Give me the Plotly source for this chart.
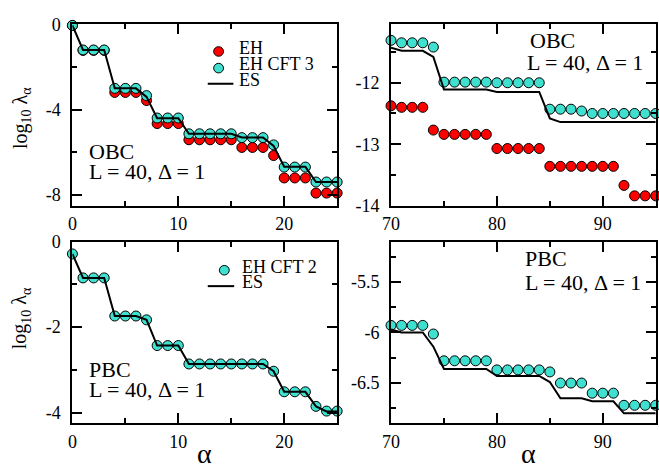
import plotly.graph_objects as go

W, H = 659, 474
FONT = "Liberation Serif, Times New Roman, serif"
RED = "#FF0000"
CYAN = "#40E0D0"

# ---------------- data ----------------
alpha_low = list(range(0, 26))
alpha_high = list(range(70, 96))

# OBC, low alpha
obc_eh_low = [-0.05, -1.22, -1.22, -1.22, -3.19, -3.19, -3.19, -3.57, -4.65, -4.65, -4.65,
              -5.41, -5.41, -5.41, -5.41, -5.41, -5.77, -5.77, -5.77, -6.15,
              -7.20, -7.20, -7.20, -7.91, -7.91, -7.91]
obc_cft3_low = [-0.05, -1.20, -1.20, -1.20, -3.00, -3.00, -3.00, -3.34, -4.39, -4.39, -4.39,
                -5.13, -5.13, -5.13, -5.13, -5.13, -5.31, -5.31, -5.31, -5.65,
                -6.69, -6.69, -6.69, -7.39, -7.39, -7.39]
obc_es_low = [-0.05, -1.20, -1.20, -1.20, -3.00, -3.00, -3.00, -3.40, -4.40, -4.40, -4.40,
              -5.13, -5.13, -5.13, -5.13, -5.13, -5.30, -5.30, -5.30, -5.70,
              -6.68, -6.68, -6.68, -7.39, -7.39, -7.39]

# OBC, high alpha
obc_eh_high = [-12.375, -12.40, -12.40, -12.40, -12.77, -12.84, -12.84, -12.84, -12.84, -12.84,
               -13.07, -13.07, -13.07, -13.07, -13.07, -13.36, -13.36, -13.36, -13.36, -13.36,
               -13.36, -13.36, -13.67, -13.84, -13.84, -13.84]
obc_cft3_high = [-11.31, -11.35, -11.35, -11.35, -11.42, -11.99, -11.99, -11.99, -11.99, -11.99,
                 -12.00, -12.00, -12.00, -12.00, -12.00, -12.43, -12.43, -12.43, -12.46, -12.50,
                 -12.50, -12.50, -12.50, -12.50, -12.50, -12.50]
obc_es_high = [-11.43, -11.48, -11.48, -11.48, -11.58, -12.11, -12.11, -12.11, -12.11, -12.11,
               -12.15, -12.15, -12.15, -12.15, -12.15, -12.58, -12.64, -12.64, -12.64, -12.64,
               -12.64, -12.64, -12.64, -12.64, -12.64, -12.64]

# PBC, low alpha
pbc_cft2_low = [-0.29, -0.85, -0.85, -0.85, -1.74, -1.74, -1.74, -1.83, -2.43, -2.43, -2.43,
                -2.86, -2.86, -2.86, -2.86, -2.86, -2.86, -2.86, -2.86, -3.03,
                -3.51, -3.51, -3.51, -3.85, -3.96, -3.96]
pbc_es_low = [-0.29, -0.85, -0.85, -0.85, -1.74, -1.74, -1.74, -1.83, -2.43, -2.43, -2.43,
              -2.86, -2.86, -2.86, -2.86, -2.86, -2.86, -2.86, -2.86, -3.03,
              -3.51, -3.51, -3.51, -3.85, -3.97, -3.97]

# PBC, high alpha
pbc_cft2_high = [-5.93, -5.93, -5.93, -5.93, -6.015, -6.28, -6.28, -6.28, -6.28, -6.28,
                 -6.37, -6.37, -6.37, -6.37, -6.37, -6.39, -6.50, -6.50, -6.50, -6.60,
                 -6.60, -6.60, -6.72, -6.72, -6.72, -6.72]
pbc_es_high = [-5.97, -6.00, -6.00, -6.00, -6.14, -6.36, -6.36, -6.36, -6.36, -6.36,
               -6.43, -6.43, -6.43, -6.43, -6.43, -6.49, -6.65, -6.65, -6.65, -6.68,
               -6.68, -6.68, -6.80, -6.80, -6.80, -6.80]

# tick labels
tl_yticks = [0, -4, -8]
tr_yticks = [-12, -13, -14]
bl_yticks = [0, -2, -4]
br_yticks = [-5.5, -6, -6.5]

# ---------------- helpers ----------------
def fx(p):
    return p / W

def fy(p):
    return 1 - p / H

LEFT = [fx(64.3), fx(332.7)]
RIGHT = [fx(387.3), fx(655.7)]
TOP = [fy(204.3), fy(15)]
BOT = [fy(431.7), fy(241.7)]

fig = go.Figure()

def markers(x, y, color, xa, ya):
    fig.add_trace(go.Scatter(x=x, y=y, mode="markers", xaxis=xa, yaxis=ya,
                             marker=dict(size=10, color=color, line=dict(color="black", width=1)),
                             cliponaxis=False, showlegend=False))

def line(x, y, xa, ya):
    fig.add_trace(go.Scatter(x=x, y=y, mode="lines", xaxis=xa, yaxis=ya,
                             line=dict(color="black", width=2),
                             cliponaxis=False, showlegend=False))

markers(alpha_low, obc_eh_low, RED, "x", "y")
markers(alpha_low, obc_cft3_low, CYAN, "x", "y")
line(alpha_low, obc_es_low, "x", "y")

markers(alpha_high, obc_eh_high, RED, "x2", "y2")
markers(alpha_high, obc_cft3_high, CYAN, "x2", "y2")
line(alpha_high, obc_es_high, "x2", "y2")

markers(alpha_low, pbc_cft2_low, CYAN, "x3", "y3")
line(alpha_low, pbc_es_low, "x3", "y3")

markers(alpha_high, pbc_cft2_high, CYAN, "x4", "y4")
line(alpha_high, pbc_es_high, "x4", "y4")

tickfont = dict(family=FONT, size=18, color="black")

def xax(domain, rng, anchor):
    return dict(domain=domain, range=rng, anchor=anchor, dtick=10, tick0=0,
                showline=True, linecolor="black", linewidth=2, mirror="ticks",
                ticks="inside", ticklen=10, tickwidth=1.5, tickcolor="black",
                minor=dict(dtick=5, tick0=0, ticks="inside", ticklen=5, tickwidth=1.5, tickcolor="black"),
                showgrid=False, zeroline=False, tickfont=tickfont, ticklabelstandoff=1)

def yax(domain, rng, anchor, vals, mdt):
    return dict(domain=domain, range=rng, anchor=anchor, tickmode="array", tickvals=vals,
                ticktext=[("%g" % v).replace("\u2212", "-") for v in vals],
                showline=True, linecolor="black", linewidth=2, mirror="ticks",
                ticks="inside", ticklen=10, tickwidth=1.5, tickcolor="black",
                minor=dict(dtick=mdt, tick0=0, ticks="inside", ticklen=5, tickwidth=1.5, tickcolor="black"),
                showgrid=False, zeroline=False, tickfont=tickfont, ticklabelstandoff=6)

fig.update_layout(
    width=W, height=H, margin=dict(l=0, r=0, t=0, b=0),
    paper_bgcolor="white", plot_bgcolor="white", showlegend=False,
    xaxis=xax(LEFT, [0, 25], "y"),
    yaxis=yax(TOP, [-8.5, 0], "x", tl_yticks, 2),
    xaxis2=xax(RIGHT, [70, 95], "y2"),
    yaxis2=yax(TOP, [-14, -11.05], "x2", tr_yticks, 0.5),
    xaxis3=xax(LEFT, [0, 25], "y3"),
    yaxis3=yax(BOT, [-4.25, 0], "x3", bl_yticks, 1),
    xaxis4=xax(RIGHT, [70, 95], "y4"),
    yaxis4=yax(BOT, [-6.9, -5.1], "x4", br_yticks, 0.25),
)

ann = []
def text(x, y, s, size=22, xanchor="left", angle=0, yanchor="middle"):
    ann.append(dict(x=fx(x), y=fy(y), xref="paper", yref="paper", text=s, showarrow=False,
                    xanchor=xanchor, yanchor=yanchor, textangle=angle,
                    font=dict(family=FONT, size=size, color="black")))

# panel labels
text(79, 148, "OBC")
text(79, 169, "L = 40, \u0394 = 1")
text(526, 31.5, "OBC")
text(523, 54.8, "L = 40, \u0394 = 1")
text(79, 375.7, "PBC")
text(79, 395.7, "L = 40, \u0394 = 1")
text(521, 259.8, "PBC")
text(521, 284, "L = 40, \u0394 = 1")

# axis titles
ytitle = "log<sub>10</sub> \u03bb<sub>\u03b1</sub>"
text(12, 113, ytitle, size=20, xanchor="center", angle=-90)
text(12, 322, ytitle, size=20, xanchor="center", angle=-90)
text(198.5, 481, "\u03b1", size=28, xanchor="center", yanchor="bottom")
text(527, 481, "\u03b1", size=28, xanchor="center", yanchor="bottom")

# legend texts
text(231, 39.5, "EH", size=18)
text(231, 56.9, "EH CFT 3", size=18)
text(231, 73.2, "ES", size=18)
text(234, 267.9, "EH CFT 2", size=18)
text(234, 284.5, "ES", size=18)
fig.update_layout(annotations=ann)

# legend glyphs
shapes = []
def dot(cx, cy, color):
    shapes.append(dict(type="circle", xref="paper", yref="paper",
                       x0=fx(cx - 5), x1=fx(cx + 5), y0=fy(cy + 5), y1=fy(cy - 5),
                       fillcolor=color, line=dict(color="black", width=1)))
def seg(x0, x1, y):
    shapes.append(dict(type="line", xref="paper", yref="paper",
                       x0=fx(x0), x1=fx(x1), y0=fy(y), y1=fy(y),
                       line=dict(color="black", width=2)))
dot(212.5, 43.3, RED)
dot(212.5, 60.7, CYAN)
seg(201.5, 227.5, 77)
dot(218.3, 271.7, CYAN)
seg(201.5, 228.3, 288.3)
fig.update_layout(shapes=shapes)

fig.write_html("out.html")
